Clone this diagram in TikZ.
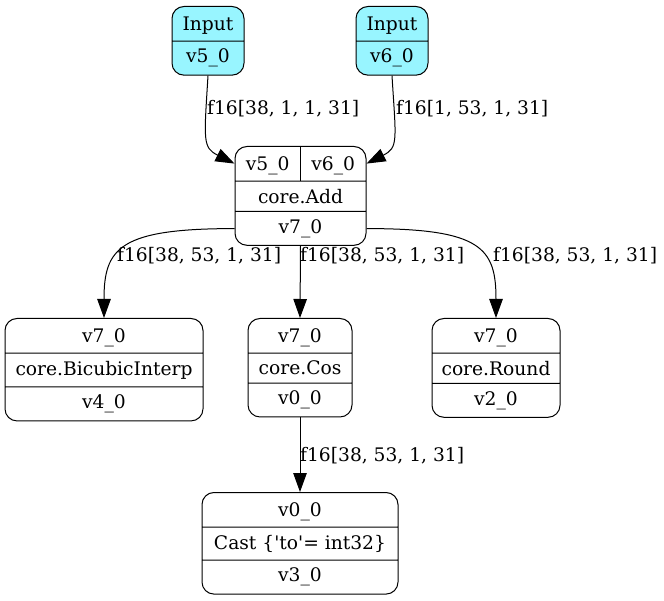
\documentclass[tikz,border=0pt]{standalone}
\usepackage{fontspec}
\setmainfont{DejaVu Serif}
\usetikzlibrary{shapes.multipart,arrows.meta,calc}
\definecolor{inputcyan}{HTML}{98F5FF}

\begin{document}
\begin{tikzpicture}[x=1pt, y=-1pt,
  rec/.style={draw, line width=1pt, rounded corners=12pt, rectangle split, rectangle split parts=3,
    inner xsep=5pt, inner ysep=7.35pt, text height=16.5pt, text depth=2.5pt, anchor=north,
    font=\fontsize{18.67}{22}\selectfont},
  inp/.style={rec, rectangle split parts=2, fill=inputcyan},
  lbl/.style={anchor=west, inner sep=0pt, font=\fontsize{18.67}{22}\selectfont},
  arr/.style={-{Triangle[length=19pt,width=13.5pt]}, line width=1pt}
]
  \useasboundingbox (0,0) rectangle (664,601);

  % inputs
  \node[inp, minimum width=72pt] (in5) at (208,6) {Input\nodepart{two}v5\_0};
  \node[inp, minimum width=72pt] (in6) at (392,6) {Input\nodepart{two}v6\_0};

  % add
  \node[rec, minimum width=131pt, inner xsep=0pt] (add) at (300.5,146)
    {\makebox[65.5pt]{v5\_0}\makebox[65.5pt]{v6\_0}\nodepart{two}core.Add\nodepart{three}v7\_0};
  \draw[line width=1pt] (add.north) -- (add.text split);

  % consumers
  \node[rec, minimum width=198pt] (bic) at (104,318) {v7\_0\nodepart{two}core.BicubicInterp\nodepart{three}v4\_0};
  \node[rec, minimum width=104pt] (cos) at (300,318) {v7\_0\nodepart{two}core.Cos\nodepart{three}v0\_0};
  \node[rec, minimum width=128pt] (rnd) at (496,318) {v7\_0\nodepart{two}core.Round\nodepart{three}v2\_0};
  \node[rec, minimum width=196pt] (cast) at (300,492)
    {v0\_0\nodepart{two}Cast \{\textquotesingle to\textquotesingle= int32\}\nodepart{three}v3\_0};

  \coordinate (addin5) at ($(add.north west)!.5!(add.text split west)$);
  \coordinate (addin6) at ($(add.north east)!.5!(add.text split east)$);
  \coordinate (addl) at ($(add.two split west)!.5!(add.south west)$);
  \coordinate (addr) at ($(add.two split east)!.5!(add.south east)$);

  \draw[arr] (in5.south) .. controls +(-4,65) and +(-32,-16) .. (addin5);
  \draw[arr] (in6.south) .. controls +(4,65) and +(32,-16) .. (addin6);
  \draw[arr] (addl) .. controls +(-115,0) and +(0,-70) .. (bic.north);
  \draw[arr] (add.south) -- (cos.north);
  \draw[arr] (addr) .. controls +(115,0) and +(0,-70) .. (rnd.north);
  \draw[arr] (cos.south) -- (cast.north);

  % edge labels
  \node[lbl] (l5) at (207,109) {f16[38, 1, 1, 31]};
  \node[lbl] (l6) at (396,109) {f16[1, 53, 1, 31]};
  \node[lbl] (lbic) at (117,256) {f16[38, 53, 1, 31]};
  \node[lbl] (lcos) at (300,256) {f16[38, 53, 1, 31]};
  \node[lbl] (lrnd) at (493,256) {f16[38, 53, 1, 31]};
  \node[lbl] (lcast) at (300,456) {f16[38, 53, 1, 31]};
\end{tikzpicture}
\end{document}
